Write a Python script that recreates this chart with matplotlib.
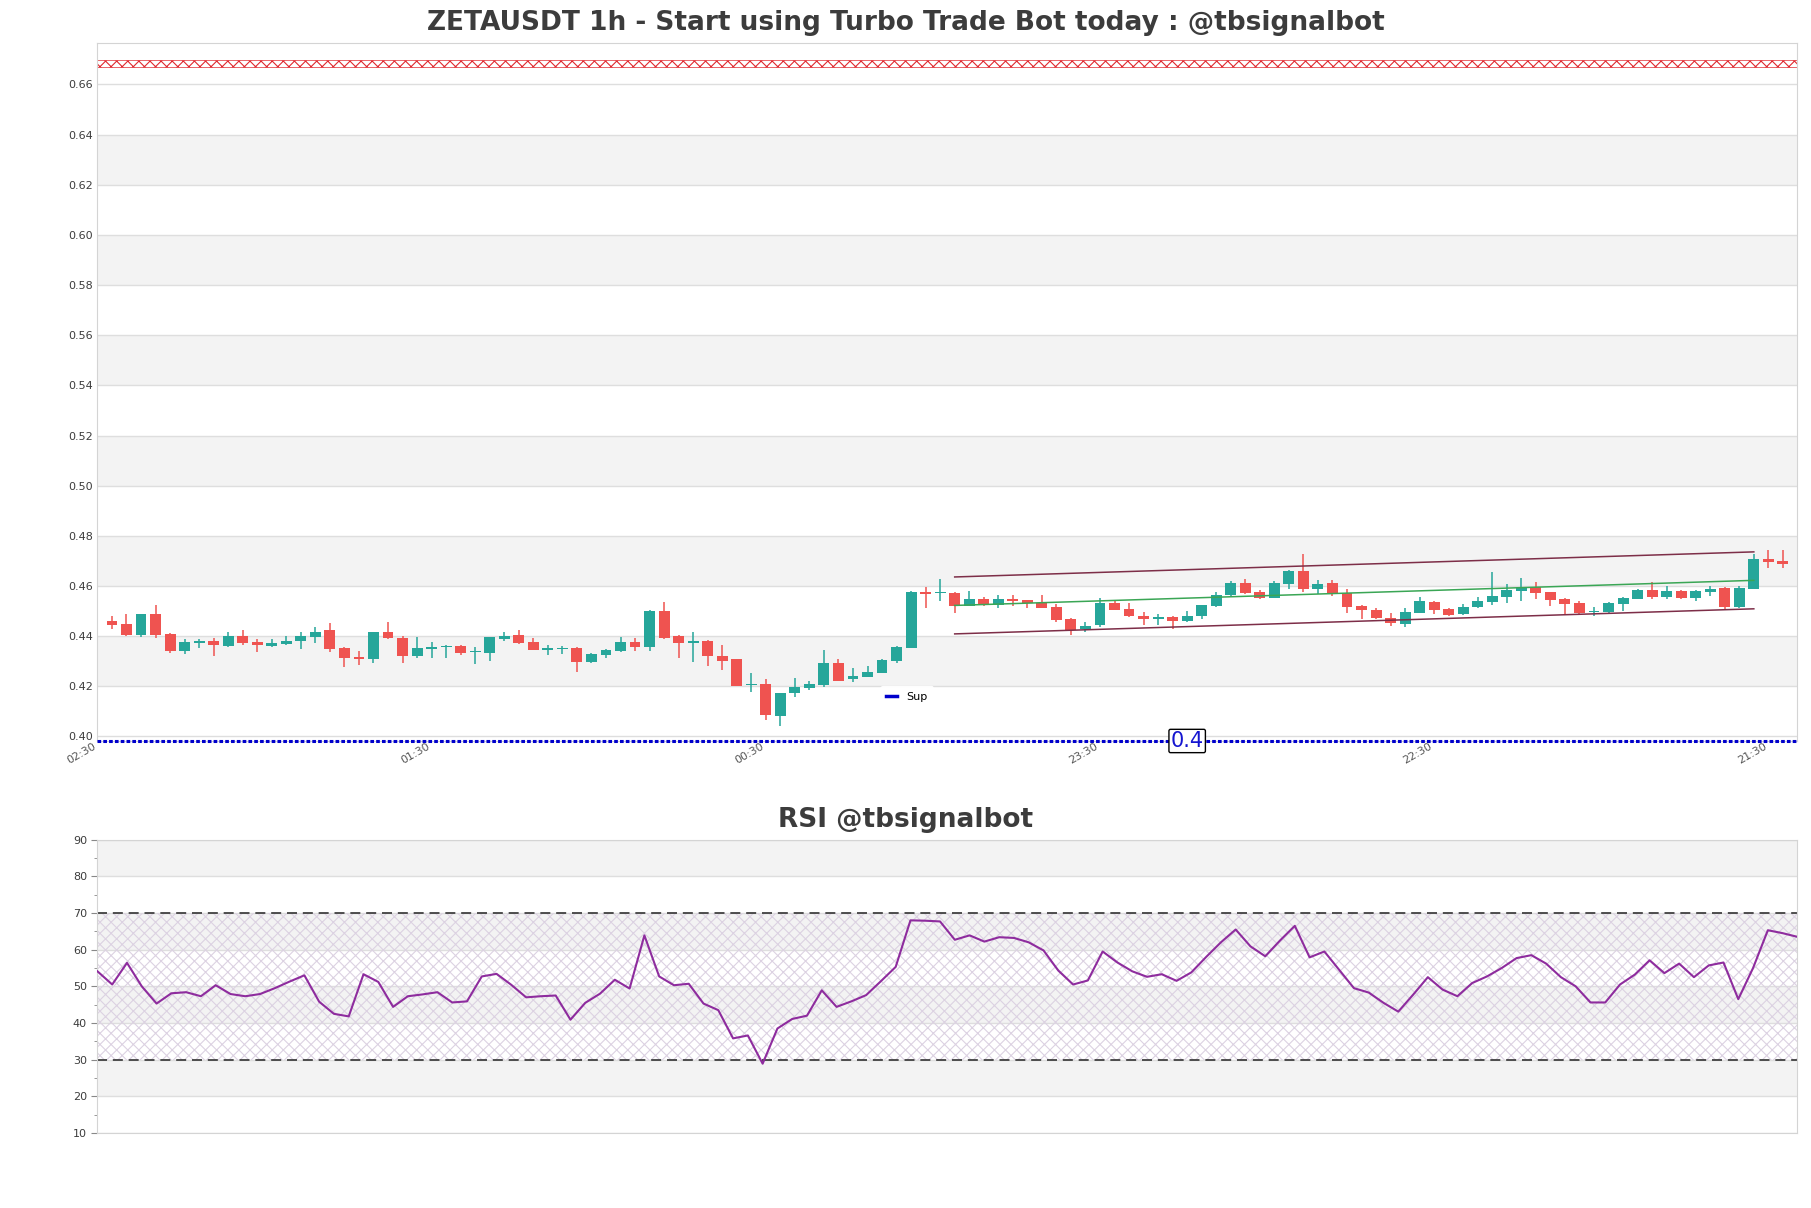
import numpy as np
import matplotlib
matplotlib.use("Agg")
from matplotlib import pyplot as plt
from matplotlib.lines import Line2D
from matplotlib.ticker import MultipleLocator, FormatStrFormatter

# ZETAUSDT 1h candles (oldest first)
opens = [0.4459, 0.4447, 0.4403, 0.4487, 0.4407, 0.4340, 0.4372, 0.4379, 0.4360, 0.4399,
         0.4375, 0.4360, 0.4367, 0.4380, 0.4396, 0.4423, 0.4351, 0.4315, 0.4308, 0.4415,
         0.4392, 0.4320, 0.4349, 0.4356, 0.4359, 0.4335, 0.4332, 0.4388, 0.4403, 0.4375,
         0.4345, 0.4349, 0.4351, 0.4296, 0.4323, 0.4339, 0.4375, 0.4355, 0.4499, 0.4399,
         0.4372, 0.4379, 0.4319, 0.4307, 0.4204, 0.4211, 0.4080, 0.4172, 0.4195, 0.4207,
         0.4291, 0.4228, 0.4239, 0.4255, 0.4299, 0.4352, 0.4575, 0.4572, 0.4571, 0.4521,
         0.4547, 0.4524, 0.4547, 0.4543, 0.4533, 0.4515, 0.4467, 0.4427, 0.4443, 0.4531,
         0.4507, 0.4481, 0.4468, 0.4475, 0.4460, 0.4480, 0.4520, 0.4564, 0.4611, 0.4575,
         0.4551, 0.4608, 0.4659, 0.4588, 0.4611, 0.4571, 0.4519, 0.4503, 0.4473, 0.4448,
         0.4492, 0.4535, 0.4507, 0.4488, 0.4515, 0.4536, 0.4556, 0.4580, 0.4595, 0.4575,
         0.4547, 0.4531, 0.4496, 0.4496, 0.4528, 0.4548, 0.4583, 0.4555, 0.4579, 0.4551,
         0.4577, 0.4591, 0.4515, 0.4588, 0.4707, 0.4700]
highs = [0.4481, 0.4487, 0.4487, 0.4523, 0.4411, 0.4387, 0.4387, 0.4391, 0.4417, 0.4423,
         0.4388, 0.4387, 0.4401, 0.4417, 0.4435, 0.4451, 0.4357, 0.4341, 0.4417, 0.4455,
         0.4400, 0.4395, 0.4377, 0.4364, 0.4364, 0.4355, 0.4396, 0.4417, 0.4423, 0.4391,
         0.4364, 0.4361, 0.4355, 0.4333, 0.4349, 0.4395, 0.4391, 0.4503, 0.4535, 0.4405,
         0.4415, 0.4383, 0.4364, 0.4307, 0.4253, 0.4231, 0.4175, 0.4235, 0.4223, 0.4343,
         0.4307, 0.4275, 0.4279, 0.4307, 0.4359, 0.4579, 0.4595, 0.4627, 0.4577, 0.4580,
         0.4557, 0.4563, 0.4563, 0.4544, 0.4565, 0.4529, 0.4473, 0.4457, 0.4553, 0.4540,
         0.4533, 0.4497, 0.4488, 0.4480, 0.4499, 0.4525, 0.4577, 0.4620, 0.4627, 0.4584,
         0.4619, 0.4663, 0.4727, 0.4624, 0.4625, 0.4587, 0.4524, 0.4513, 0.4491, 0.4513,
         0.4555, 0.4540, 0.4511, 0.4529, 0.4555, 0.4655, 0.4607, 0.4631, 0.4615, 0.4577,
         0.4551, 0.4539, 0.4516, 0.4535, 0.4555, 0.4587, 0.4616, 0.4599, 0.4584, 0.4584,
         0.4600, 0.4595, 0.4599, 0.4728, 0.4743, 0.4743]
lows = [0.4428, 0.4401, 0.4396, 0.4392, 0.4332, 0.4328, 0.4352, 0.4320, 0.4355, 0.4364,
        0.4336, 0.4356, 0.4364, 0.4348, 0.4372, 0.4336, 0.4276, 0.4284, 0.4292, 0.4388,
        0.4292, 0.4313, 0.4312, 0.4312, 0.4324, 0.4288, 0.4300, 0.4381, 0.4367, 0.4343,
        0.4324, 0.4328, 0.4256, 0.4292, 0.4312, 0.4335, 0.4340, 0.4340, 0.4387, 0.4311,
        0.4296, 0.4280, 0.4264, 0.4200, 0.4176, 0.4067, 0.4040, 0.4159, 0.4184, 0.4199,
        0.4220, 0.4216, 0.4236, 0.4255, 0.4292, 0.4352, 0.4512, 0.4539, 0.4492, 0.4519,
        0.4519, 0.4511, 0.4520, 0.4512, 0.4512, 0.4457, 0.4404, 0.4416, 0.4436, 0.4504,
        0.4476, 0.4444, 0.4444, 0.4428, 0.4457, 0.4468, 0.4515, 0.4559, 0.4568, 0.4548,
        0.4551, 0.4587, 0.4576, 0.4568, 0.4559, 0.4492, 0.4467, 0.4467, 0.4440, 0.4436,
        0.4492, 0.4487, 0.4479, 0.4483, 0.4511, 0.4524, 0.4532, 0.4540, 0.4547, 0.4520,
        0.4489, 0.4489, 0.4480, 0.4493, 0.4501, 0.4547, 0.4548, 0.4547, 0.4547, 0.4539,
        0.4560, 0.4505, 0.4512, 0.4588, 0.4672, 0.4672]
closes = [0.4444, 0.4403, 0.4487, 0.4403, 0.4339, 0.4375, 0.4379, 0.4364, 0.4399, 0.4371,
          0.4364, 0.4371, 0.4381, 0.4399, 0.4417, 0.4348, 0.4312, 0.4308, 0.4415, 0.4392,
          0.4320, 0.4351, 0.4356, 0.4360, 0.4332, 0.4341, 0.4395, 0.4399, 0.4371, 0.4344,
          0.4353, 0.4353, 0.4296, 0.4327, 0.4343, 0.4375, 0.4355, 0.4499, 0.4393, 0.4371,
          0.4379, 0.4320, 0.4300, 0.4203, 0.4211, 0.4084, 0.4175, 0.4199, 0.4211, 0.4291,
          0.4223, 0.4243, 0.4259, 0.4305, 0.4355, 0.4575, 0.4568, 0.4575, 0.4520, 0.4547,
          0.4524, 0.4547, 0.4539, 0.4533, 0.4512, 0.4464, 0.4424, 0.4441, 0.4531, 0.4504,
          0.4479, 0.4468, 0.4477, 0.4460, 0.4481, 0.4524, 0.4565, 0.4611, 0.4573, 0.4551,
          0.4611, 0.4659, 0.4588, 0.4609, 0.4568, 0.4515, 0.4504, 0.4471, 0.4452, 0.4495,
          0.4539, 0.4504, 0.4484, 0.4517, 0.4539, 0.4559, 0.4583, 0.4591, 0.4571, 0.4543,
          0.4528, 0.4491, 0.4500, 0.4531, 0.4551, 0.4583, 0.4555, 0.4579, 0.4551, 0.4579,
          0.4587, 0.4515, 0.4591, 0.4707, 0.4696, 0.4688]

# RSI values, one per candle
rsi = [54.1, 50.5, 56.4, 50.0, 45.3, 48.1, 48.4, 47.3, 50.3, 47.9,
       47.3, 47.9, 49.5, 51.3, 53.0, 45.8, 42.5, 41.8, 53.3, 51.2,
       44.4, 47.3, 47.8, 48.4, 45.6, 45.9, 52.7, 53.4, 50.4, 47.0,
       47.3, 47.5, 40.9, 45.5, 48.0, 51.8, 49.4, 63.9, 52.7, 50.3,
       50.7, 45.3, 43.5, 35.8, 36.6, 28.9, 38.5, 41.1, 42.0, 48.9,
       44.4, 45.9, 47.6, 51.4, 55.3, 68.0, 67.9, 67.7, 62.7, 63.9,
       62.2, 63.4, 63.2, 62.0, 59.8, 54.3, 50.5, 51.6, 59.5, 56.5,
       54.1, 52.6, 53.3, 51.5, 53.8, 58.0, 62.0, 65.5, 60.9, 58.2,
       62.5, 66.5, 57.9, 59.5, 54.5, 49.5, 48.3, 45.5, 43.1, 47.7,
       52.5, 49.1, 47.3, 50.9, 52.7, 55.0, 57.7, 58.5, 56.2, 52.5,
       50.0, 45.6, 45.6, 50.5, 53.2, 57.1, 53.6, 56.2, 52.5, 55.7,
       56.5, 46.5, 55.0, 65.3, 64.5, 63.5]

tick_labels = ['02:30', '01:30', '00:30', '23:30', '22:30', '21:30']

# trend channel (candle numbers and price at both ends)
channel_x = [59, 114]
channel_upper = [0.4636, 0.4736]
channel_lower = [0.4409, 0.4509]

sup_level = 0.3982
sup_text = '0.4'
res_band = [0.6668, 0.6698]

GREEN = '#26a69a'
RED = '#ef5350'
BAND = '#f3f3f3'
GRID = '#dedede'
SPINE = '#d4d4d4'
TEXT = '#3c3c3c'
SUP_BLUE = '#0000cc'

plt.rcParams['hatch.linewidth'] = 0.8

n = len(opens)
x = np.arange(1, n + 1)
o = np.array(opens)
c = np.array(closes)
up = c >= o
colors = np.where(up, GREEN, RED)

fig = plt.figure(figsize=(18.11, 12.08), dpi=100)
ax = fig.add_axes([0.0538, 0.3866, 0.9387, 0.5778])
rax = fig.add_axes([0.0538, 0.0621, 0.9387, 0.2428])

# ---- price panel ----
ymin, ymax = sup_level, 0.6765
yticks = np.arange(0.40, 0.661, 0.02)
for i, t in enumerate(yticks[:-1]):
    if i % 2 == 1:
        ax.axhspan(t, t + 0.02, color=BAND, zorder=0, lw=0)
for t in yticks:
    ax.axhline(t, color=GRID, lw=1, zorder=0.5)

ax.vlines(x, lows, highs, colors=colors, lw=1.1, zorder=2)
body_h = np.maximum(np.abs(c - o), 0.0003)
ax.bar(x, body_h, bottom=np.minimum(o, c), width=0.75, color=colors, zorder=3)

# channel lines
ax.plot(channel_x, channel_upper, color='#7d2e48', lw=1.1, zorder=4)
ax.plot(channel_x, channel_lower, color='#7d2e48', lw=1.1, zorder=4)
channel_mid = [(a + b) / 2 for a, b in zip(channel_upper, channel_lower)]
ax.plot(channel_x, channel_mid, color='#3aa655', lw=1.1, zorder=4)

# resistance band and support line
ax.axhspan(res_band[0], res_band[1], facecolor='none', edgecolor='#e0282f',
           hatch='xxx', lw=0.5, zorder=2)
ax.axhline(sup_level, color=SUP_BLUE, lw=2.2, ls=(0, (1.2, 0.7)), zorder=5, clip_on=False)
ax.text(75, sup_level, sup_text, color='#1515d0', fontsize=15, ha='center', va='center',
        zorder=6, bbox=dict(boxstyle='round,pad=0.08', fc='white', ec='black', lw=1))
ax.legend(handles=[Line2D([], [], color=SUP_BLUE, lw=2.5)], labels=['Sup'],
          loc='center', bbox_to_anchor=(0.476, 0.063), fontsize=8, handlelength=1.0,
          frameon=True, framealpha=0.9, edgecolor='white', borderpad=0.5)

ax.set_xlim(0, n + 1)
ax.set_ylim(ymin, ymax)
ax.set_yticks(yticks)
ax.yaxis.set_major_formatter(FormatStrFormatter('%.2f'))
ax.set_xticks(np.arange(0, n, 23))
ax.set_xticklabels(tick_labels, rotation=30, ha='right')
ax.tick_params(axis='y', length=0, labelsize=8, labelcolor=TEXT, pad=3)
ax.tick_params(axis='x', length=0, labelsize=8, labelcolor='#555555', pad=0)
for s in ax.spines.values():
    s.set_color(SPINE)

# ---- RSI panel ----
for lo in range(20, 90, 20):
    rax.axhspan(lo, lo + 10, color=BAND, zorder=0, lw=0)
for t in range(10, 91, 10):
    rax.axhline(t, color=GRID, lw=1, zorder=0.5)
xr = np.arange(len(rsi))
rax.fill_between(xr, 30, 70, facecolor='none', edgecolor='#dcd2e2', hatch='xxx', lw=0,
                 zorder=1)
rax.axhline(70, color='#333333', lw=1.2, dashes=(6, 3.5), zorder=2)
rax.axhline(30, color='#333333', lw=1.2, dashes=(6, 3.5), zorder=2)
rax.plot(xr, rsi, color='#8e2c9e', lw=1.5, zorder=3)

rax.set_xlim(0, len(rsi) - 1)
rax.set_ylim(10, 90)
rax.set_yticks(range(10, 91, 10))
rax.yaxis.set_minor_locator(MultipleLocator(5))
rax.set_xticks([])
rax.tick_params(axis='y', which='major', length=4, color='#888888', labelsize=8,
                labelcolor=TEXT)
rax.tick_params(axis='y', which='minor', length=2, color='#888888')
for s in rax.spines.values():
    s.set_color(SPINE)

fig.text(0.5, 0.981, 'ZETAUSDT 1h - Start using Turbo Trade Bot today : @tbsignalbot',
         ha='center', va='center', fontsize=19, fontweight='bold', color=TEXT)
fig.text(0.5, 0.321, 'RSI @tbsignalbot', ha='center', va='center', fontsize=19,
         fontweight='bold', color=TEXT)

fig.savefig('out.png', dpi=100)
